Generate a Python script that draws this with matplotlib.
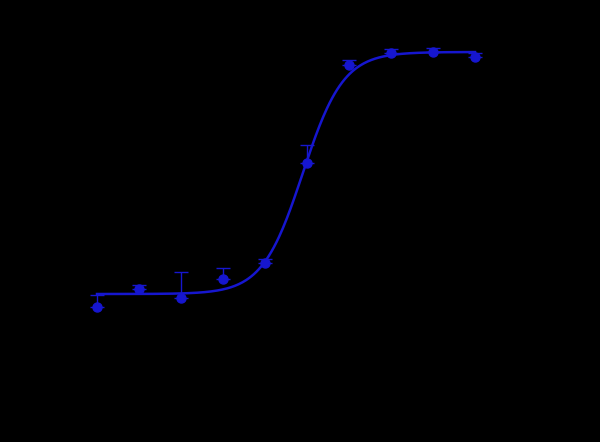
import numpy as np
import matplotlib
matplotlib.use('Agg')
import matplotlib.pyplot as plt

# dose-response data (log molar concentration vs % response)
log_conc = [-11.0, -10.5, -10.0, -9.5, -9.0, -8.5, -8.0, -7.5, -7.0, -6.5]
response = [-5.4, 2.1, -1.7, 6.2, 12.8, 54.1, 94.6, 99.6, 100.0, 97.9]
resp_err = [5.0, 1.5, 10.7, 4.5, 1.5, 7.4, 2.0, 1.5, 1.5, 1.5]

# 4PL fit parameters
fit_bottom = 0.0
fit_top = 100.0
fit_logec50 = -8.55
fit_hill = 1.8

blue = '#1616cf'

fig = plt.figure(figsize=(6, 4.42), dpi=100)
fig.patch.set_facecolor('black')
ax = fig.add_axes([0.0917, 0.2253, 0.798, 0.7118])
ax.set_facecolor('black')

xs = np.linspace(log_conc[0], log_conc[-1], 300)
ys = fit_bottom + (fit_top - fit_bottom) / (1 + 10 ** ((fit_logec50 - xs) * fit_hill))
ax.plot(xs, ys, color=blue, linewidth=1.8)

# one-sided (upper) error bars
ax.errorbar(log_conc, response, yerr=[np.zeros(len(resp_err)), resp_err],
            fmt='o', color=blue, markersize=6.5, elinewidth=1.0,
            capsize=5, capthick=1.0)

ax.set_xlim(-11.5, -5.8)
ax.set_ylim(-20, 110)

# axes and text are black on black, as in the reference
for s in ['top', 'right']:
    ax.spines[s].set_visible(False)
for s in ['left', 'bottom']:
    ax.spines[s].set_color('black')
ax.tick_params(colors='black', labelsize=9)
ax.set_xlabel('log [Agonist] (M)', color='black', fontsize=10)
ax.set_ylabel('Response (%)', color='black', fontsize=10, labelpad=2)

fig.savefig('out.png', dpi=100, facecolor='black')
